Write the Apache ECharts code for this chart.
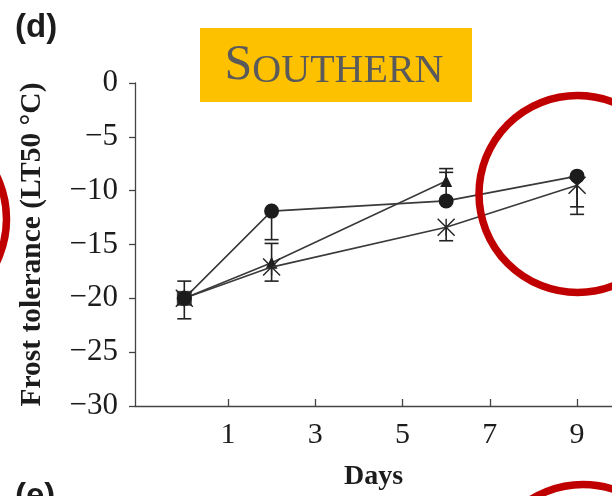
<!DOCTYPE html>
<html>
<head>
<meta charset="utf-8">
<script src="https://cdn.jsdelivr.net/npm/echarts@6/dist/echarts.min.js"></script>
<style>html,body{margin:0;padding:0;background:#fff}#c{width:612px;height:496px}</style>
</head>
<body>
<div id="c"></div>
<script>
// ---- data ----
const xTickValues = [1, 3, 5, 7, 9];
const circleSeries = [[0, -20], [2, -11.9], [6, -10.95], [9, -8.65]];
const triangleSeries = [[0, -20], [2, -16.7], [6, -9.1]];
const crossSeries = [[0, -20], [2, -17.1], [6, -13.4], [9, -9.5]];
const startPoint = [[0, -20]];
// error bars: x, centre, low, high
const errX      = [0,     2,      2,     6,      6,     6,      9,     9];
const errCenter = [-20,   -11.9,  -16.7, -10.95, -9.1,  -13.4,  -8.65, -9.5];
const errLow    = [-21.9, -14.55, -18.4, -10.95, -9.1,  -14.65, -11.5, -12.2];
const errHigh   = [-18.4, -11.9,  -14.9, -8.3,   -7.95, -13.4,  -8.65, -9.5];
const title = 'SOUTHERN';
const panelLabel = '(d)';
const nextPanelLabel = '(e)';

const errData = errX.map((x, i) => [x, errLow[i], errHigh[i], errCenter[i]]);
const serif = 'Liberation Serif';
const ink = '#1c1c1c';
const lineColor = '#3a3a3a';

const chart = echarts.init(document.getElementById('c'), null, {renderer: 'canvas'});
const crossPath = 'path://M0,0L20,20M20,0L0,20M10,0L10,20';

chart.setOption({
  animation: false,
  backgroundColor: '#fff',
  grid: {left: 135, right: 0, top: 83, bottom: 89, containLabel: false},
  xAxis: {
    type: 'value', min: -1.13, max: 9.8,
    name: 'Days', nameLocation: 'middle', nameGap: 57,
    nameTextStyle: {fontFamily: serif, fontWeight: 'bold', fontSize: 28, color: ink},
    axisLine: {show: true, onZero: false, lineStyle: {color: '#444', width: 1.3}},
    axisTick: {show: true, inside: true, length: 7, customValues: xTickValues, lineStyle: {color: '#444', width: 1.3}},
    axisLabel: {show: true, customValues: xTickValues, fontFamily: serif, fontSize: 30, color: ink, margin: 14},
    splitLine: {show: false}
  },
  yAxis: {
    type: 'value', min: -30, max: 0, interval: 5,
    name: 'Frost tolerance (LT50 \u00B0C)', nameLocation: 'middle', nameGap: 88, nameRotate: 90,
    nameTextStyle: {fontFamily: serif, fontWeight: 'bold', fontSize: 29.5, color: ink},
    axisLine: {show: true, onZero: false, lineStyle: {color: '#444', width: 1.3}},
    axisTick: {show: true, inside: false, length: 6, lineStyle: {color: '#444', width: 1.3}},
    axisLabel: {fontFamily: serif, fontSize: 31, color: ink, margin: 17,
      formatter: v => String(v).replace('-', '\u2212')},
    splitLine: {show: false}
  },
  series: [
    {
      type: 'custom', name: 'err', z: 3,
      renderItem: function (params, api) {
        const x = api.value(0), lo = api.value(1), hi = api.value(2), c = api.value(3);
        const pLo = api.coord([x, lo]);
        const pHi = api.coord([x, hi]);
        const hw = 7;
        const children = [{type: 'line', shape: {x1: pLo[0], y1: pLo[1], x2: pHi[0], y2: pHi[1]},
          style: {stroke: '#222', lineWidth: 1.6}}];
        if (lo !== c) children.push({type: 'line', shape: {x1: pLo[0] - hw, y1: pLo[1], x2: pLo[0] + hw, y2: pLo[1]}, style: {stroke: '#222', lineWidth: 1.6}});
        if (hi !== c) children.push({type: 'line', shape: {x1: pHi[0] - hw, y1: pHi[1], x2: pHi[0] + hw, y2: pHi[1]}, style: {stroke: '#222', lineWidth: 1.6}});
        return {type: 'group', children: children};
      },
      encode: {x: 0, y: [1, 2]},
      data: errData
    },
    {
      type: 'line', name: 'triangle', data: triangleSeries, z: 4,
      symbol: 'triangle', symbolSize: 12,
      lineStyle: {color: lineColor, width: 1.6},
      itemStyle: {color: ink}
    },
    {
      type: 'line', name: 'cross', data: crossSeries, z: 5,
      symbol: crossPath, symbolSize: 17,
      lineStyle: {color: lineColor, width: 1.6},
      itemStyle: {color: 'transparent', borderColor: '#222', borderWidth: 1.4}
    },
    {
      type: 'line', name: 'circle', data: circleSeries, z: 6,
      symbol: 'circle', symbolSize: 15,
      lineStyle: {color: lineColor, width: 1.6},
      itemStyle: {color: ink}
    },
    {
      type: 'scatter', name: 'start', data: startPoint, z: 7,
      symbol: 'rect', symbolSize: 15,
      itemStyle: {color: ink}
    }
  ],
  graphic: [
    {type: 'text', left: 15, top: 11, style: {text: panelLabel, font: 'bold 33px "Liberation Sans"', fill: ink}},
    {type: 'text', left: 15, top: 480, style: {text: nextPanelLabel, font: 'bold 33px "Liberation Sans"', fill: ink}},
    {type: 'rect', shape: {x: 200, y: 28, width: 272, height: 74}, style: {fill: '#FDC100'}, z: 10},
    {type: 'text', x: 334, y: 66, z: 11,
      style: {
        text: '{a|' + title.charAt(0) + '}{b|' + title.slice(1) + '}',
        align: 'center', verticalAlign: 'middle',
        rich: {
          a: {fontFamily: serif, fontSize: 50, fill: '#5a5a5a', verticalAlign: 'bottom'},
          b: {fontFamily: serif, fontSize: 40, fill: '#5a5a5a', verticalAlign: 'bottom'}
        }
      }
    },
    {type: 'circle', shape: {cx: 577.5, cy: 194, r: 98.5}, style: {fill: 'none', stroke: '#C00000', lineWidth: 7.5}, z: 12},
    {type: 'circle', shape: {cx: -92, cy: 219, r: 98.5}, style: {fill: 'none', stroke: '#C00000', lineWidth: 7.5}, z: 12},
    {type: 'circle', shape: {cx: 583, cy: 583, r: 98.5}, style: {fill: 'none', stroke: '#C00000', lineWidth: 7.5}, z: 12}
  ]
});
</script>
</body>
</html>
